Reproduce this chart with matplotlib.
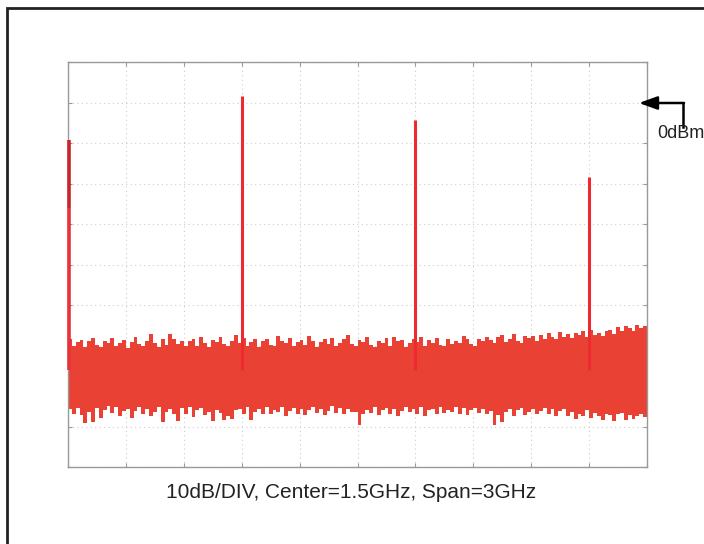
import matplotlib.pyplot as plt
import numpy as np
from matplotlib.lines import Line2D
from matplotlib.patches import Rectangle

# noise floor envelope (dBm), one value per 0.02 GHz bin
bin_edges = np.arange(0, 3.0001, 0.02)
floor_top = [-58.4, -60.1, -59.2, -58.7, -60.4, -59.0, -58.2, -59.8, -60.3, -58.9,
             -59.5, -58.1, -60.2, -59.3, -58.6, -60.5, -59.1, -57.9, -59.7, -60.0,
             -58.8, -57.2, -59.4, -60.3, -58.5, -59.9, -57.1, -58.3, -59.6, -58.9,
             -60.2, -59.0, -58.4, -60.1, -57.8, -59.3, -60.4, -58.6, -59.2, -58.0,
             -59.7, -60.2, -58.8, -57.5, -59.4, -58.1, -60.0, -59.2, -58.5, -60.3,
             -59.0, -58.3, -59.8, -60.1, -57.7, -58.9, -59.5, -58.2, -60.2, -59.1,
             -58.6, -59.9, -57.6, -58.8, -60.3, -59.2, -58.4, -59.7, -58.1, -60.0,
             -59.3, -58.5, -57.4, -59.6, -60.2, -58.7, -59.1, -58.0, -59.8, -60.4,
             -58.9, -59.4, -58.2, -60.1, -57.9, -59.0, -58.6, -60.3, -59.5, -58.3,
             -59.2, -57.8, -60.0, -58.7, -59.3, -58.1, -59.9, -60.2, -58.4, -59.6,
             -58.8, -59.4, -57.6, -58.3, -59.7, -60.1, -58.5, -59.0, -57.9, -58.6,
             -59.3, -58.0, -57.5, -59.1, -58.4, -57.2, -58.8, -59.5, -57.7, -58.2,
             -57.6, -58.9, -57.3, -58.5, -56.9, -57.8, -58.3, -56.7, -57.9, -57.1,
             -58.2, -56.8, -57.5, -56.4, -57.9, -56.2, -57.3, -56.8, -57.6, -56.5,
             -56.1, -57.2, -55.4, -56.3, -55.1, -55.8, -56.4, -55.0, -55.6, -55.3]
floor_bot = [-75.8, -76.9, -75.4, -77.2, -79.1, -76.3, -78.8, -75.5, -77.8, -76.0,
             -74.9, -76.6, -75.3, -77.4, -76.1, -75.6, -77.9, -76.2, -75.1, -76.8,
             -75.7, -77.3, -76.4, -75.2, -78.9, -76.5, -75.8, -77.0, -78.6, -75.4,
             -76.9, -75.3, -77.6, -76.0, -75.5, -77.1, -76.3, -78.6, -75.9, -76.7,
             -78.4, -77.4, -78.2, -76.0, -75.6, -76.9, -75.1, -78.5, -76.4, -75.7,
             -76.8, -75.3, -77.0, -75.9, -76.5, -75.2, -77.5, -76.1, -75.4, -76.9,
             -75.6, -77.2, -76.0, -75.3, -76.7, -75.8, -77.1, -76.2, -75.0, -76.6,
             -75.4, -76.9, -75.7, -76.3, -76.3, -79.6, -77.0, -75.9, -76.6, -75.2,
             -77.1, -76.0, -75.4, -76.8, -75.7, -77.3, -76.1, -75.3, -76.5, -75.8,
             -76.9, -75.2, -77.4, -76.0, -75.6, -77.0, -75.3, -76.7, -75.9, -76.3,
             -75.1, -76.8, -75.5, -77.2, -76.0, -75.4, -76.6, -75.7, -77.0, -76.2,
             -79.6, -77.1, -79.0, -76.3, -75.6, -77.4, -76.0, -75.5, -77.2, -76.4,
             -75.8, -77.0, -76.2, -75.4, -76.9, -75.6, -77.3, -76.1, -75.7, -77.5,
             -76.3, -78.2, -76.8, -77.5, -76.0, -78.0, -76.6, -77.3, -78.4, -76.9,
             -77.2, -78.6, -77.0, -76.7, -78.5, -77.1, -78.1, -77.4, -76.9, -77.6]

# carrier and harmonics
spike_freq = [0.9, 1.8, 2.7]
spike_peak = [1.5, -4.4, -18.5]
dc_freq = 0.004
dc_peak = -9.2
dc_dark_end = -26.0

fig = plt.figure(figsize=(7.04, 5.44), dpi=100)
ax = fig.add_axes([68/704, 77/544, 579/704, 405/544])
ax.set_axisbelow(True)

ax.stairs(floor_top, bin_edges, baseline=floor_bot, fill=True,
          color='#E94234', lw=0)
ax.vlines(spike_freq, -66, spike_peak, color='#EC2A30', lw=2.2, zorder=3)
ax.vlines([dc_freq], -66, [dc_dark_end], color='#E8323A', lw=2.6, zorder=4, clip_on=False)
ax.vlines([dc_freq], dc_dark_end, [dc_peak], color='#C9242C', lw=2.6, zorder=4, clip_on=False)

ax.set_xlim(0, 3)
ax.set_ylim(-90, 10)
ax.set_xticks(np.arange(0, 3.01, 0.3))
ax.set_yticks(np.arange(-90, 10.1, 10))
ax.tick_params(direction='in', length=3, color='#999999', labelleft=False,
               labelbottom=False, top=True, right=True)
ax.grid(True, color='#cccccc', lw=0.8, linestyle=(0, (1, 3)))
for s in ax.spines.values():
    s.set_color('#999999')
    s.set_linewidth(1.0)

fig.text(351/704, 1 - 493/544, '10dB/DIV, Center=1.5GHz, Span=3GHz',
         ha='center', va='center', fontsize=15, family='Liberation Sans', color='#222222')

# 0dBm marker
fig.add_artist(Line2D([683, 683], [544-127, 544-103], transform=None, color='black', lw=1.8))
ax.annotate('', xy=(639, 544-103), xytext=(684, 544-103), xycoords='figure pixels',
            textcoords='figure pixels',
            arrowprops=dict(arrowstyle='-|>,head_length=1.1,head_width=0.4',
                            color='black', lw=1.8, shrinkA=0, shrinkB=0))
fig.text(657/704, 1 - 133/544, '0dBm', ha='left', va='center', fontsize=13,
         family='Liberation Sans', color='#222222')

# outer frame
fig.add_artist(Rectangle((7, -20), 760, 544-8+20, transform=None, fill=False,
                         ec='#222222', lw=2))

fig.savefig('out.png', dpi=100)
